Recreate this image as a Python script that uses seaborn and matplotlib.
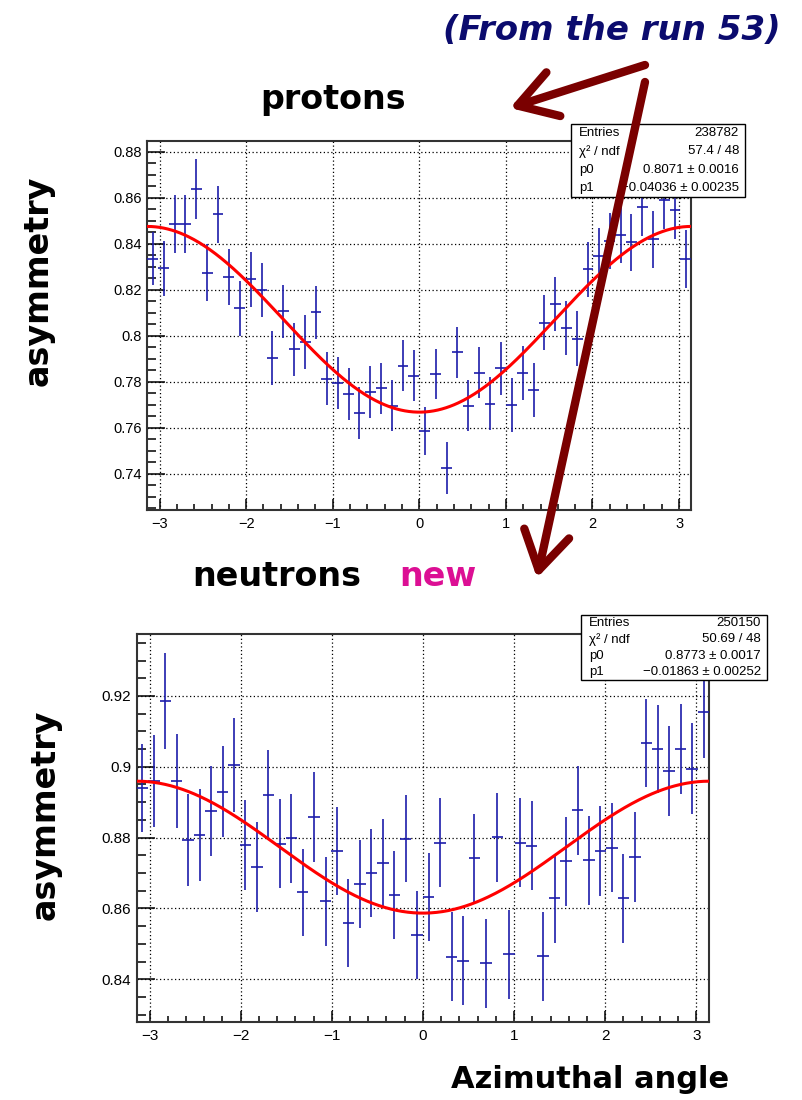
import numpy as np
import pandas as pd
import matplotlib
matplotlib.use("Agg")
import matplotlib.pyplot as plt
from matplotlib.ticker import MultipleLocator, FuncFormatter
from matplotlib.patches import Rectangle
import seaborn as sns

# ---------------------------------------------------------------- data
N_BINS = 50  # bins over the azimuthal range [-pi, pi]

proton_asym = [0.8334, 0.8292, 0.8485, 0.8485, 0.8636, 0.8274, 0.8527, 0.8254,
               0.8118, 0.8245, 0.8197, 0.7902, 0.8105, 0.7940, 0.7973, 0.8101,
               0.7813, 0.7794, 0.7745, 0.7664, 0.7755, 0.7771, 0.7695, 0.7869,
               0.7826, 0.7585, 0.7834, 0.7424, 0.7927, 0.7695, 0.7839, 0.7703,
               0.7859, 0.7699, 0.7836, 0.7762, 0.8057, 0.8138, 0.8033, 0.7986,
               0.8288, 0.8346, 0.8410, 0.8438, 0.8406, 0.8560, 0.8418, 0.8590,
               0.8547, 0.8334]
proton_err = [0.0115, 0.0120, 0.0128, 0.0128, 0.0130, 0.0125, 0.0125, 0.0122,
              0.0120, 0.0120, 0.0118, 0.0118, 0.0117, 0.0117, 0.0116, 0.0116,
              0.0115, 0.0114, 0.0113, 0.0113, 0.0112, 0.0112, 0.0111, 0.0110,
              0.0110, 0.0105, 0.0110, 0.0112, 0.0110, 0.0111, 0.0112, 0.0115,
              0.0115, 0.0116, 0.0117, 0.0117, 0.0118, 0.0118, 0.0119, 0.0120,
              0.0120, 0.0121, 0.0122, 0.0123, 0.0124, 0.0125, 0.0125, 0.0126,
              0.0127, 0.0127]

neutron_asym = [0.8940, 0.8961, 0.9186, 0.8960, 0.8794, 0.8807, 0.8875, 0.8930,
                0.9006, 0.8780, 0.8716, 0.8920, 0.8783, 0.8798, 0.8645, 0.8858,
                0.8620, 0.8762, 0.8559, 0.8668, 0.8699, 0.8728, 0.8637, 0.8797,
                0.8525, 0.8632, 0.8786, 0.8464, 0.8452, 0.8741, 0.8445, 0.8801,
                0.8470, 0.8786, 0.8777, 0.8465, 0.8629, 0.8733, 0.8877, 0.8736,
                0.8762, 0.8771, 0.8629, 0.8745, 0.9067, 0.9050, 0.8988, 0.9050,
                0.8995, 0.9155]
neutron_err = [0.0125, 0.0130, 0.0135, 0.0132, 0.0130, 0.0130, 0.0128, 0.0128,
               0.0133, 0.0127, 0.0127, 0.0127, 0.0126, 0.0126, 0.0123, 0.0126,
               0.0125, 0.0125, 0.0125, 0.0124, 0.0124, 0.0124, 0.0124, 0.0123,
               0.0123, 0.0124, 0.0126, 0.0126, 0.0126, 0.0126, 0.0126, 0.0126,
               0.0126, 0.0126, 0.0126, 0.0126, 0.0126, 0.0126, 0.0126, 0.0126,
               0.0126, 0.0126, 0.0126, 0.0126, 0.0125, 0.0125, 0.0127, 0.0127,
               0.0128, 0.0130]

# fit p0 + p1*cos(phi)
proton_fit = (0.8071, -0.04036)
neutron_fit = (0.8773, -0.01863)

proton_stats = [("Entries", "238782"), ("\u03c7\u00b2 / ndf", "57.4 / 48"),
                ("p0", "0.8071 \u00b1 0.0016"), ("p1", "\u22120.04036 \u00b1 0.00235")]
neutron_stats = [("Entries", "250150"), ("\u03c7\u00b2 / ndf", "50.69 / 48"),
                 ("p0", "0.8773 \u00b1 0.0017"), ("p1", "\u22120.01863 \u00b1 0.00252")]

x_ticks = [-3, -2, -1, 0, 1, 2, 3]
proton_yticks = [0.74, 0.76, 0.78, 0.80, 0.82, 0.84, 0.86, 0.88]
neutron_yticks = [0.84, 0.86, 0.88, 0.90, 0.92]

# ---------------------------------------------------------------- style
sns.set_theme(style="white")
plt.rcParams["font.family"] = ["Liberation Sans", "DejaVu Sans"]
plt.rcParams["text.color"] = "black"
plt.rcParams["xtick.color"] = "black"
plt.rcParams["ytick.color"] = "black"
plt.rcParams["axes.labelcolor"] = "black"

W, H = 802, 1100
fig = plt.figure(figsize=(W / 100, H / 100), dpi=100)

POINT_COLOR = "#1c1caa"
ARROW_COLOR = "#7a0000"


def px_axes(left, top, right, bottom):
    return fig.add_axes([left / W, 1 - bottom / H, (right - left) / W, (bottom - top) / H])


def draw_panel(ax, vals, errs, fit, ylim, yticks, fs):
    edges = np.linspace(-np.pi, np.pi, N_BINS + 1)
    centers = 0.5 * (edges[:-1] + edges[1:])
    half = 0.5 * (edges[1] - edges[0])
    ax.errorbar(centers, vals, xerr=half, yerr=errs, fmt="none",
                ecolor=POINT_COLOR, elinewidth=1.2, capsize=0, zorder=3)
    phi = np.linspace(-np.pi, np.pi, 400)
    curve = pd.DataFrame({"phi": phi, "asym": fit[0] + fit[1] * np.cos(phi)})
    sns.lineplot(data=curve, x="phi", y="asym", ax=ax, color="red", lw=2.2, zorder=4)
    ax.set_xlabel("")
    ax.set_ylabel("")
    ax.set_xlim(-np.pi, np.pi)
    ax.set_ylim(*ylim)
    ax.set_xticks(x_ticks)
    ax.set_yticks(yticks)
    ax.xaxis.set_minor_locator(MultipleLocator(0.2))
    ax.yaxis.set_minor_locator(MultipleLocator(0.005))
    ax.yaxis.set_major_formatter(FuncFormatter(lambda v, p: f"{v:g}"))
    ax.xaxis.set_major_formatter(FuncFormatter(lambda v, p: f"{v:g}".replace("-", "\u2212")))
    ax.tick_params(axis="y", which="major", direction="in", length=13, width=1.1,
                   labelsize=fs, pad=4, color="black", labelcolor="black")
    ax.tick_params(axis="y", which="minor", direction="in", length=6.5, width=1.1, color="black")
    ax.tick_params(axis="x", which="major", direction="in", length=8, width=1.1,
                   labelsize=fs, pad=5, color="black", labelcolor="black")
    ax.tick_params(axis="x", which="minor", direction="in", length=4.5, width=1.1, color="black")
    ax.tick_params(left=True, bottom=True, which="both")
    ax.grid(True, which="major", ls=(0, (1, 2)), color="black", lw=0.9)
    for s in ax.spines.values():
        s.set_color("#333333")
        s.set_linewidth(1.5)


ax_p = px_axes(147.3, 141, 691.3, 510)
draw_panel(ax_p, proton_asym, proton_err, proton_fit, (0.7242, 0.8846), proton_yticks, 10.5)

ax_n = px_axes(136.6, 634, 709.3, 1021.7)
draw_panel(ax_n, neutron_asym, neutron_err, neutron_fit, (0.828, 0.9375), neutron_yticks, 11)

# ---------------------------------------------------------------- overlay (pixel coordinates)
ov = fig.add_axes([0, 0, 1, 1], zorder=10)
ov.set_xlim(0, W)
ov.set_ylim(H, 0)
ov.axis("off")
ov.patch.set_alpha(0)


def stats_box(left, top, right, bottom, rows, fs):
    ov.add_patch(Rectangle((left, top), right - left, bottom - top, facecolor="white",
                           edgecolor="black", lw=1.0, zorder=1))
    n = len(rows)
    step = (bottom - top) / n
    for i, (k, v) in enumerate(rows):
        y = top + step * (i + 0.5)
        ov.text(left + 8, y, k, fontsize=fs, ha="left", va="center", zorder=2, color="black")
        ov.text(right - 6, y, v, fontsize=fs, ha="right", va="center", zorder=2, color="black")


stats_box(571, 124, 745, 197, proton_stats, 9.5)
stats_box(581, 615, 767, 680, neutron_stats, 9.5)

# titles and labels
ov.text(612, 31, "(From the run 53)", fontsize=24.5, fontweight="bold", style="oblique",
        family="DejaVu Sans", color="#0b0b6e", ha="center", va="center")
comic = dict(fontweight="bold", family="DejaVu Sans", color="black", ha="center", va="center")
ov.text(333, 100, "protons", fontsize=24, **comic)
ov.text(277, 576, "neutrons", fontsize=24, **comic)
ov.text(438, 576, "new", fontsize=24, **{**comic, "color": "#dc0f94"})
ov.text(38, 281, "asymmetry", fontsize=24, rotation=90, **comic)
ov.text(45, 815, "asymmetry", fontsize=24, rotation=90, **comic)
ov.text(590, 1080, "Azimuthal angle", fontsize=22, **comic)

# arrows
arrow_kw = dict(arrowstyle="->,head_length=0.9,head_width=0.55", lw=6,
                color=ARROW_COLOR, mutation_scale=30, shrinkA=0, shrinkB=0)
ov.annotate("", xy=(510, 108), xytext=(645, 65), arrowprops=arrow_kw)
ov.annotate("", xy=(537, 578), xytext=(645, 82), arrowprops=arrow_kw)

fig.savefig("out.png", dpi=100)
